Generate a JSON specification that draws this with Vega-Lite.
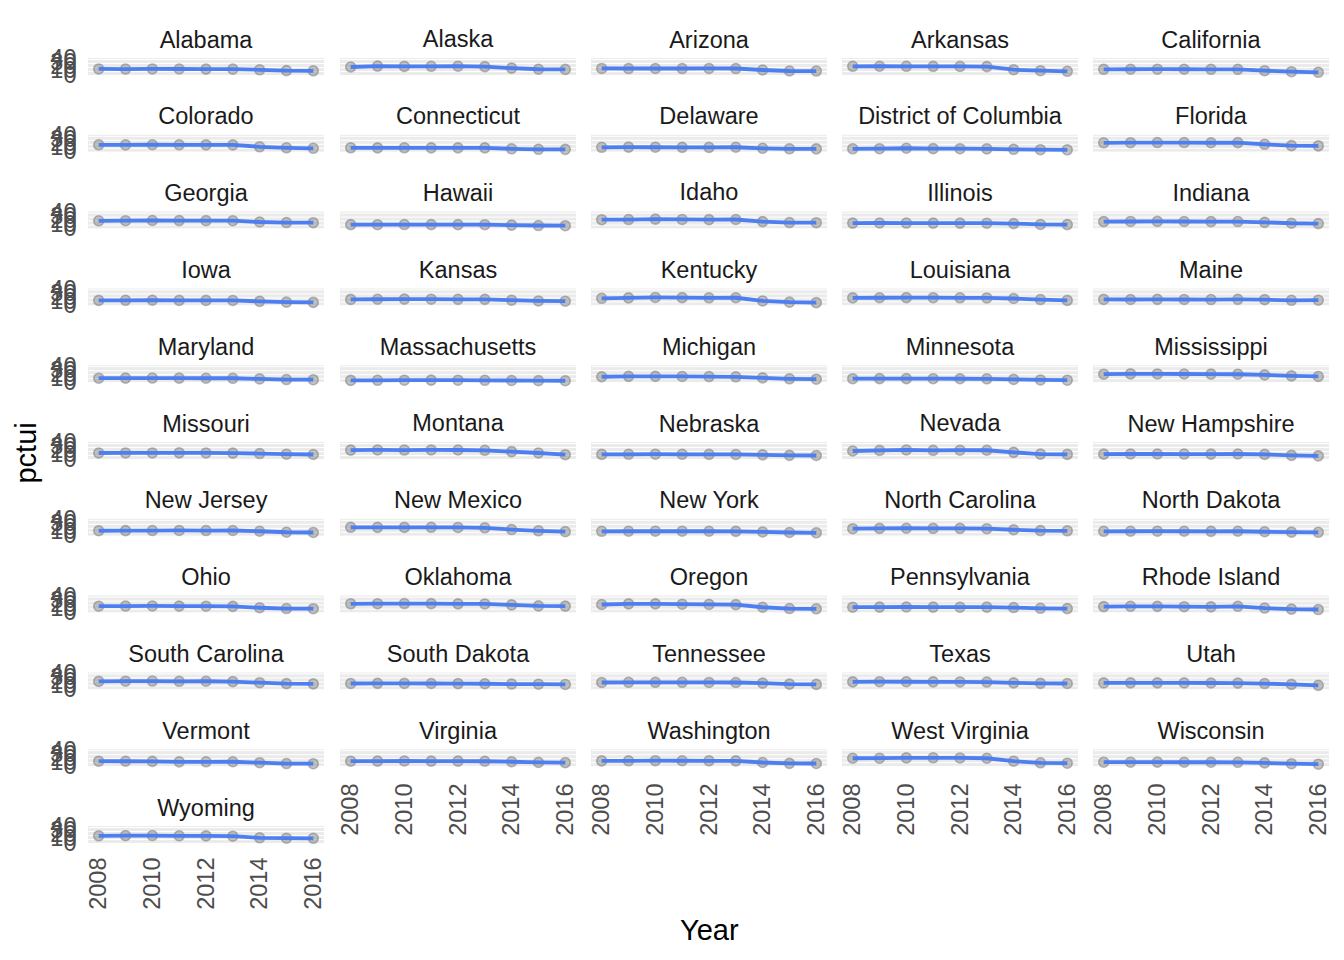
{
 "$schema": "https://vega.github.io/schema/vega-lite/v6.json",
 "background": "white",
 "padding": {"left": 12, "top": 28, "right": 5, "bottom": 5},
 "config": {
  "font": "Liberation Sans",
  "view": {"fill": "#EBEBEB", "stroke": null},
  "header": {"labelFontSize": 23.5, "labelColor": "#1A1A1A", "labelPadding": 6, "labelFont": "Liberation Sans"},
  "axisX": {"labelAngle": -90, "labelFontSize": 23.5, "labelColor": "#4D4D4D", "ticks": false, "domain": false, "grid": false, "labelPadding": 10},
  "axisY": {"labelFontSize": 23.5, "labelColor": "#4D4D4D", "ticks": false, "domain": false, "grid": true, "gridColor": "#FFFFFF", "gridWidth": 1, "labelPadding": 12, "labelOverlap": false, "labelBound": false, "labelFlush": false}
 },
 "title": {"text": "Year", "orient": "bottom", "anchor": "middle", "fontSize": 29, "fontWeight": "normal", "color": "#000000", "font": "Liberation Sans", "offset": 8, "dx": 38},
 "data": {"values": [
{"state":"Alabama","year":2008,"pctui":14.9},{"state":"Alabama","year":2009,"pctui":14.7},{"state":"Alabama","year":2010,"pctui":15.0},{"state":"Alabama","year":2011,"pctui":14.8},{"state":"Alabama","year":2012,"pctui":14.5},{"state":"Alabama","year":2013,"pctui":14.4},{"state":"Alabama","year":2014,"pctui":12.9},{"state":"Alabama","year":2015,"pctui":10.9},{"state":"Alabama","year":2016,"pctui":10.4},
{"state":"Alaska","year":2008,"pctui":19.8},{"state":"Alaska","year":2009,"pctui":22.0},{"state":"Alaska","year":2010,"pctui":21.3},{"state":"Alaska","year":2011,"pctui":21.5},{"state":"Alaska","year":2012,"pctui":21.8},{"state":"Alaska","year":2013,"pctui":20.6},{"state":"Alaska","year":2014,"pctui":17.0},{"state":"Alaska","year":2015,"pctui":14.2},{"state":"Alaska","year":2016,"pctui":13.8},
{"state":"Arizona","year":2008,"pctui":16.2},{"state":"Arizona","year":2009,"pctui":16.0},{"state":"Arizona","year":2010,"pctui":16.1},{"state":"Arizona","year":2011,"pctui":16.0},{"state":"Arizona","year":2012,"pctui":16.2},{"state":"Arizona","year":2013,"pctui":16.0},{"state":"Arizona","year":2014,"pctui":12.4},{"state":"Arizona","year":2015,"pctui":9.9},{"state":"Arizona","year":2016,"pctui":9.7},
{"state":"Arkansas","year":2008,"pctui":21.5},{"state":"Arkansas","year":2009,"pctui":21.6},{"state":"Arkansas","year":2010,"pctui":21.5},{"state":"Arkansas","year":2011,"pctui":21.4},{"state":"Arkansas","year":2012,"pctui":21.2},{"state":"Arkansas","year":2013,"pctui":20.8},{"state":"Arkansas","year":2014,"pctui":13.1},{"state":"Arkansas","year":2015,"pctui":10.6},{"state":"Arkansas","year":2016,"pctui":9.1},
{"state":"California","year":2008,"pctui":14.1},{"state":"California","year":2009,"pctui":14.2},{"state":"California","year":2010,"pctui":14.3},{"state":"California","year":2011,"pctui":14.2},{"state":"California","year":2012,"pctui":14.1},{"state":"California","year":2013,"pctui":14.0},{"state":"California","year":2014,"pctui":10.6},{"state":"California","year":2015,"pctui":8.2},{"state":"California","year":2016,"pctui":6.7},
{"state":"Colorado","year":2008,"pctui":17.3},{"state":"Colorado","year":2009,"pctui":17.0},{"state":"Colorado","year":2010,"pctui":17.4},{"state":"Colorado","year":2011,"pctui":17.3},{"state":"Colorado","year":2012,"pctui":17.1},{"state":"Colorado","year":2013,"pctui":17.0},{"state":"Colorado","year":2014,"pctui":12.4},{"state":"Colorado","year":2015,"pctui":9.9},{"state":"Colorado","year":2016,"pctui":8.6},
{"state":"Connecticut","year":2008,"pctui":9.9},{"state":"Connecticut","year":2009,"pctui":9.7},{"state":"Connecticut","year":2010,"pctui":9.9},{"state":"Connecticut","year":2011,"pctui":9.8},{"state":"Connecticut","year":2012,"pctui":9.8},{"state":"Connecticut","year":2013,"pctui":9.7},{"state":"Connecticut","year":2014,"pctui":7.4},{"state":"Connecticut","year":2015,"pctui":6.2},{"state":"Connecticut","year":2016,"pctui":6.0},
{"state":"Delaware","year":2008,"pctui":11.1},{"state":"Delaware","year":2009,"pctui":11.5},{"state":"Delaware","year":2010,"pctui":11.3},{"state":"Delaware","year":2011,"pctui":11.0},{"state":"Delaware","year":2012,"pctui":10.9},{"state":"Delaware","year":2013,"pctui":11.2},{"state":"Delaware","year":2014,"pctui":8.6},{"state":"Delaware","year":2015,"pctui":7.4},{"state":"Delaware","year":2016,"pctui":7.3},
{"state":"District of Columbia","year":2008,"pctui":7.4},{"state":"District of Columbia","year":2009,"pctui":7.6},{"state":"District of Columbia","year":2010,"pctui":8.8},{"state":"District of Columbia","year":2011,"pctui":7.8},{"state":"District of Columbia","year":2012,"pctui":7.6},{"state":"District of Columbia","year":2013,"pctui":7.2},{"state":"District of Columbia","year":2014,"pctui":6.2},{"state":"District of Columbia","year":2015,"pctui":5.2},{"state":"District of Columbia","year":2016,"pctui":4.9},
{"state":"Florida","year":2008,"pctui":22.2},{"state":"Florida","year":2009,"pctui":22.5},{"state":"Florida","year":2010,"pctui":22.9},{"state":"Florida","year":2011,"pctui":22.8},{"state":"Florida","year":2012,"pctui":22.4},{"state":"Florida","year":2013,"pctui":22.6},{"state":"Florida","year":2014,"pctui":18.5},{"state":"Florida","year":2015,"pctui":15.2},{"state":"Florida","year":2016,"pctui":14.6},
{"state":"Georgia","year":2008,"pctui":19.3},{"state":"Georgia","year":2009,"pctui":19.5},{"state":"Georgia","year":2010,"pctui":20.0},{"state":"Georgia","year":2011,"pctui":19.8},{"state":"Georgia","year":2012,"pctui":19.6},{"state":"Georgia","year":2013,"pctui":19.5},{"state":"Georgia","year":2014,"pctui":16.3},{"state":"Georgia","year":2015,"pctui":15.0},{"state":"Georgia","year":2016,"pctui":14.6},
{"state":"Hawaii","year":2008,"pctui":9.9},{"state":"Hawaii","year":2009,"pctui":9.6},{"state":"Hawaii","year":2010,"pctui":10.0},{"state":"Hawaii","year":2011,"pctui":9.9},{"state":"Hawaii","year":2012,"pctui":9.8},{"state":"Hawaii","year":2013,"pctui":9.6},{"state":"Hawaii","year":2014,"pctui":8.6},{"state":"Hawaii","year":2015,"pctui":7.6},{"state":"Hawaii","year":2016,"pctui":7.2},
{"state":"Idaho","year":2008,"pctui":22.0},{"state":"Idaho","year":2009,"pctui":22.3},{"state":"Idaho","year":2010,"pctui":23.3},{"state":"Idaho","year":2011,"pctui":22.6},{"state":"Idaho","year":2012,"pctui":22.1},{"state":"Idaho","year":2013,"pctui":22.5},{"state":"Idaho","year":2014,"pctui":17.3},{"state":"Idaho","year":2015,"pctui":15.0},{"state":"Idaho","year":2016,"pctui":14.6},
{"state":"Illinois","year":2008,"pctui":13.6},{"state":"Illinois","year":2009,"pctui":13.8},{"state":"Illinois","year":2010,"pctui":13.7},{"state":"Illinois","year":2011,"pctui":13.6},{"state":"Illinois","year":2012,"pctui":13.5},{"state":"Illinois","year":2013,"pctui":13.4},{"state":"Illinois","year":2014,"pctui":12.4},{"state":"Illinois","year":2015,"pctui":10.2},{"state":"Illinois","year":2016,"pctui":9.9},
{"state":"Indiana","year":2008,"pctui":17.3},{"state":"Indiana","year":2009,"pctui":17.6},{"state":"Indiana","year":2010,"pctui":17.8},{"state":"Indiana","year":2011,"pctui":17.5},{"state":"Indiana","year":2012,"pctui":17.3},{"state":"Indiana","year":2013,"pctui":17.4},{"state":"Indiana","year":2014,"pctui":15.5},{"state":"Indiana","year":2015,"pctui":13.2},{"state":"Indiana","year":2016,"pctui":12.4},
{"state":"Iowa","year":2008,"pctui":12.4},{"state":"Iowa","year":2009,"pctui":12.6},{"state":"Iowa","year":2010,"pctui":12.7},{"state":"Iowa","year":2011,"pctui":12.4},{"state":"Iowa","year":2012,"pctui":12.3},{"state":"Iowa","year":2013,"pctui":12.2},{"state":"Iowa","year":2014,"pctui":10.0},{"state":"Iowa","year":2015,"pctui":8.0},{"state":"Iowa","year":2016,"pctui":7.4},
{"state":"Kansas","year":2008,"pctui":14.8},{"state":"Kansas","year":2009,"pctui":15.2},{"state":"Kansas","year":2010,"pctui":15.6},{"state":"Kansas","year":2011,"pctui":15.3},{"state":"Kansas","year":2012,"pctui":15.0},{"state":"Kansas","year":2013,"pctui":15.0},{"state":"Kansas","year":2014,"pctui":12.8},{"state":"Kansas","year":2015,"pctui":11.0},{"state":"Kansas","year":2016,"pctui":10.4},
{"state":"Kentucky","year":2008,"pctui":17.6},{"state":"Kentucky","year":2009,"pctui":18.6},{"state":"Kentucky","year":2010,"pctui":19.6},{"state":"Kentucky","year":2011,"pctui":19.2},{"state":"Kentucky","year":2012,"pctui":18.8},{"state":"Kentucky","year":2013,"pctui":18.9},{"state":"Kentucky","year":2014,"pctui":11.0},{"state":"Kentucky","year":2015,"pctui":8.0},{"state":"Kentucky","year":2016,"pctui":6.8},
{"state":"Louisiana","year":2008,"pctui":18.7},{"state":"Louisiana","year":2009,"pctui":18.9},{"state":"Louisiana","year":2010,"pctui":19.2},{"state":"Louisiana","year":2011,"pctui":19.0},{"state":"Louisiana","year":2012,"pctui":18.8},{"state":"Louisiana","year":2013,"pctui":18.4},{"state":"Louisiana","year":2014,"pctui":17.0},{"state":"Louisiana","year":2015,"pctui":14.4},{"state":"Louisiana","year":2016,"pctui":12.4},
{"state":"Maine","year":2008,"pctui":14.8},{"state":"Maine","year":2009,"pctui":14.6},{"state":"Maine","year":2010,"pctui":14.9},{"state":"Maine","year":2011,"pctui":14.6},{"state":"Maine","year":2012,"pctui":14.4},{"state":"Maine","year":2013,"pctui":15.0},{"state":"Maine","year":2014,"pctui":14.2},{"state":"Maine","year":2015,"pctui":12.6},{"state":"Maine","year":2016,"pctui":12.8},
{"state":"Maryland","year":2008,"pctui":9.9},{"state":"Maryland","year":2009,"pctui":10.1},{"state":"Maryland","year":2010,"pctui":10.2},{"state":"Maryland","year":2011,"pctui":10.0},{"state":"Maryland","year":2012,"pctui":9.8},{"state":"Maryland","year":2013,"pctui":9.7},{"state":"Maryland","year":2014,"pctui":8.1},{"state":"Maryland","year":2015,"pctui":6.6},{"state":"Maryland","year":2016,"pctui":6.2},
{"state":"Massachusetts","year":2008,"pctui":4.5},{"state":"Massachusetts","year":2009,"pctui":4.7},{"state":"Massachusetts","year":2010,"pctui":5.0},{"state":"Massachusetts","year":2011,"pctui":5.1},{"state":"Massachusetts","year":2012,"pctui":4.9},{"state":"Massachusetts","year":2013,"pctui":4.7},{"state":"Massachusetts","year":2014,"pctui":4.2},{"state":"Massachusetts","year":2015,"pctui":3.8},{"state":"Massachusetts","year":2016,"pctui":3.6},
{"state":"Michigan","year":2008,"pctui":13.5},{"state":"Michigan","year":2009,"pctui":14.4},{"state":"Michigan","year":2010,"pctui":14.5},{"state":"Michigan","year":2011,"pctui":14.2},{"state":"Michigan","year":2012,"pctui":14.0},{"state":"Michigan","year":2013,"pctui":13.4},{"state":"Michigan","year":2014,"pctui":10.8},{"state":"Michigan","year":2015,"pctui":8.4},{"state":"Michigan","year":2016,"pctui":7.4},
{"state":"Minnesota","year":2008,"pctui":8.6},{"state":"Minnesota","year":2009,"pctui":8.8},{"state":"Minnesota","year":2010,"pctui":8.8},{"state":"Minnesota","year":2011,"pctui":8.6},{"state":"Minnesota","year":2012,"pctui":8.5},{"state":"Minnesota","year":2013,"pctui":8.4},{"state":"Minnesota","year":2014,"pctui":6.9},{"state":"Minnesota","year":2015,"pctui":5.6},{"state":"Minnesota","year":2016,"pctui":5.0},
{"state":"Mississippi","year":2008,"pctui":19.8},{"state":"Mississippi","year":2009,"pctui":20.5},{"state":"Mississippi","year":2010,"pctui":20.4},{"state":"Mississippi","year":2011,"pctui":20.3},{"state":"Mississippi","year":2012,"pctui":20.0},{"state":"Mississippi","year":2013,"pctui":19.7},{"state":"Mississippi","year":2014,"pctui":18.0},{"state":"Mississippi","year":2015,"pctui":15.6},{"state":"Mississippi","year":2016,"pctui":14.2},
{"state":"Missouri","year":2008,"pctui":14.8},{"state":"Missouri","year":2009,"pctui":15.0},{"state":"Missouri","year":2010,"pctui":15.0},{"state":"Missouri","year":2011,"pctui":15.1},{"state":"Missouri","year":2012,"pctui":15.0},{"state":"Missouri","year":2013,"pctui":14.6},{"state":"Missouri","year":2014,"pctui":13.5},{"state":"Missouri","year":2015,"pctui":11.8},{"state":"Missouri","year":2016,"pctui":11.1},
{"state":"Montana","year":2008,"pctui":22.0},{"state":"Montana","year":2009,"pctui":22.4},{"state":"Montana","year":2010,"pctui":22.1},{"state":"Montana","year":2011,"pctui":22.4},{"state":"Montana","year":2012,"pctui":22.2},{"state":"Montana","year":2013,"pctui":21.5},{"state":"Montana","year":2014,"pctui":18.2},{"state":"Montana","year":2015,"pctui":14.8},{"state":"Montana","year":2016,"pctui":10.6},
{"state":"Nebraska","year":2008,"pctui":11.4},{"state":"Nebraska","year":2009,"pctui":11.6},{"state":"Nebraska","year":2010,"pctui":11.8},{"state":"Nebraska","year":2011,"pctui":11.6},{"state":"Nebraska","year":2012,"pctui":11.4},{"state":"Nebraska","year":2013,"pctui":11.3},{"state":"Nebraska","year":2014,"pctui":10.3},{"state":"Nebraska","year":2015,"pctui":9.0},{"state":"Nebraska","year":2016,"pctui":8.6},
{"state":"Nevada","year":2008,"pctui":19.8},{"state":"Nevada","year":2009,"pctui":21.2},{"state":"Nevada","year":2010,"pctui":22.3},{"state":"Nevada","year":2011,"pctui":21.4},{"state":"Nevada","year":2012,"pctui":21.8},{"state":"Nevada","year":2013,"pctui":21.6},{"state":"Nevada","year":2014,"pctui":16.4},{"state":"Nevada","year":2015,"pctui":12.0},{"state":"Nevada","year":2016,"pctui":11.4},
{"state":"New Hampshire","year":2008,"pctui":12.0},{"state":"New Hampshire","year":2009,"pctui":12.3},{"state":"New Hampshire","year":2010,"pctui":12.4},{"state":"New Hampshire","year":2011,"pctui":12.2},{"state":"New Hampshire","year":2012,"pctui":12.0},{"state":"New Hampshire","year":2013,"pctui":12.3},{"state":"New Hampshire","year":2014,"pctui":11.4},{"state":"New Hampshire","year":2015,"pctui":9.0},{"state":"New Hampshire","year":2016,"pctui":7.6},
{"state":"New Jersey","year":2008,"pctui":12.5},{"state":"New Jersey","year":2009,"pctui":12.8},{"state":"New Jersey","year":2010,"pctui":13.0},{"state":"New Jersey","year":2011,"pctui":13.2},{"state":"New Jersey","year":2012,"pctui":13.0},{"state":"New Jersey","year":2013,"pctui":13.1},{"state":"New Jersey","year":2014,"pctui":11.2},{"state":"New Jersey","year":2015,"pctui":8.8},{"state":"New Jersey","year":2016,"pctui":8.2},
{"state":"New Mexico","year":2008,"pctui":21.0},{"state":"New Mexico","year":2009,"pctui":20.9},{"state":"New Mexico","year":2010,"pctui":20.8},{"state":"New Mexico","year":2011,"pctui":21.0},{"state":"New Mexico","year":2012,"pctui":20.6},{"state":"New Mexico","year":2013,"pctui":19.8},{"state":"New Mexico","year":2014,"pctui":15.4},{"state":"New Mexico","year":2015,"pctui":12.4},{"state":"New Mexico","year":2016,"pctui":10.2},
{"state":"New York","year":2008,"pctui":11.1},{"state":"New York","year":2009,"pctui":11.2},{"state":"New York","year":2010,"pctui":11.3},{"state":"New York","year":2011,"pctui":11.3},{"state":"New York","year":2012,"pctui":11.2},{"state":"New York","year":2013,"pctui":11.0},{"state":"New York","year":2014,"pctui":9.5},{"state":"New York","year":2015,"pctui":8.2},{"state":"New York","year":2016,"pctui":7.4},
{"state":"North Carolina","year":2008,"pctui":17.6},{"state":"North Carolina","year":2009,"pctui":18.3},{"state":"North Carolina","year":2010,"pctui":18.6},{"state":"North Carolina","year":2011,"pctui":18.3},{"state":"North Carolina","year":2012,"pctui":18.4},{"state":"North Carolina","year":2013,"pctui":17.6},{"state":"North Carolina","year":2014,"pctui":15.0},{"state":"North Carolina","year":2015,"pctui":12.8},{"state":"North Carolina","year":2016,"pctui":12.4},
{"state":"North Dakota","year":2008,"pctui":11.1},{"state":"North Dakota","year":2009,"pctui":11.2},{"state":"North Dakota","year":2010,"pctui":11.4},{"state":"North Dakota","year":2011,"pctui":11.2},{"state":"North Dakota","year":2012,"pctui":11.0},{"state":"North Dakota","year":2013,"pctui":11.2},{"state":"North Dakota","year":2014,"pctui":10.0},{"state":"North Dakota","year":2015,"pctui":9.0},{"state":"North Dakota","year":2016,"pctui":8.6},
{"state":"Ohio","year":2008,"pctui":15.8},{"state":"Ohio","year":2009,"pctui":16.2},{"state":"Ohio","year":2010,"pctui":16.4},{"state":"Ohio","year":2011,"pctui":16.1},{"state":"Ohio","year":2012,"pctui":15.8},{"state":"Ohio","year":2013,"pctui":15.4},{"state":"Ohio","year":2014,"pctui":12.0},{"state":"Ohio","year":2015,"pctui":10.0},{"state":"Ohio","year":2016,"pctui":9.6},
{"state":"Oklahoma","year":2008,"pctui":21.8},{"state":"Oklahoma","year":2009,"pctui":22.0},{"state":"Oklahoma","year":2010,"pctui":22.4},{"state":"Oklahoma","year":2011,"pctui":22.1},{"state":"Oklahoma","year":2012,"pctui":21.6},{"state":"Oklahoma","year":2013,"pctui":21.4},{"state":"Oklahoma","year":2014,"pctui":19.0},{"state":"Oklahoma","year":2015,"pctui":16.5},{"state":"Oklahoma","year":2016,"pctui":16.0},
{"state":"Oregon","year":2008,"pctui":20.0},{"state":"Oregon","year":2009,"pctui":21.5},{"state":"Oregon","year":2010,"pctui":21.6},{"state":"Oregon","year":2011,"pctui":20.8},{"state":"Oregon","year":2012,"pctui":20.2},{"state":"Oregon","year":2013,"pctui":19.6},{"state":"Oregon","year":2014,"pctui":13.2},{"state":"Oregon","year":2015,"pctui":10.0},{"state":"Oregon","year":2016,"pctui":9.4},
{"state":"Pennsylvania","year":2008,"pctui":13.4},{"state":"Pennsylvania","year":2009,"pctui":13.6},{"state":"Pennsylvania","year":2010,"pctui":13.8},{"state":"Pennsylvania","year":2011,"pctui":13.6},{"state":"Pennsylvania","year":2012,"pctui":13.4},{"state":"Pennsylvania","year":2013,"pctui":13.5},{"state":"Pennsylvania","year":2014,"pctui":12.5},{"state":"Pennsylvania","year":2015,"pctui":10.6},{"state":"Pennsylvania","year":2016,"pctui":9.9},
{"state":"Rhode Island","year":2008,"pctui":14.8},{"state":"Rhode Island","year":2009,"pctui":15.6},{"state":"Rhode Island","year":2010,"pctui":15.4},{"state":"Rhode Island","year":2011,"pctui":14.6},{"state":"Rhode Island","year":2012,"pctui":14.2},{"state":"Rhode Island","year":2013,"pctui":15.6},{"state":"Rhode Island","year":2014,"pctui":11.2},{"state":"Rhode Island","year":2015,"pctui":8.6},{"state":"Rhode Island","year":2016,"pctui":7.6},
{"state":"South Carolina","year":2008,"pctui":19.8},{"state":"South Carolina","year":2009,"pctui":20.2},{"state":"South Carolina","year":2010,"pctui":20.6},{"state":"South Carolina","year":2011,"pctui":20.0},{"state":"South Carolina","year":2012,"pctui":20.1},{"state":"South Carolina","year":2013,"pctui":19.2},{"state":"South Carolina","year":2014,"pctui":16.6},{"state":"South Carolina","year":2015,"pctui":14.2},{"state":"South Carolina","year":2016,"pctui":13.6},
{"state":"South Dakota","year":2008,"pctui":14.6},{"state":"South Dakota","year":2009,"pctui":14.9},{"state":"South Dakota","year":2010,"pctui":14.8},{"state":"South Dakota","year":2011,"pctui":14.6},{"state":"South Dakota","year":2012,"pctui":14.2},{"state":"South Dakota","year":2013,"pctui":14.0},{"state":"South Dakota","year":2014,"pctui":13.2},{"state":"South Dakota","year":2015,"pctui":12.8},{"state":"South Dakota","year":2016,"pctui":12.2},
{"state":"Tennessee","year":2008,"pctui":17.0},{"state":"Tennessee","year":2009,"pctui":17.6},{"state":"Tennessee","year":2010,"pctui":17.5},{"state":"Tennessee","year":2011,"pctui":17.6},{"state":"Tennessee","year":2012,"pctui":17.2},{"state":"Tennessee","year":2013,"pctui":17.0},{"state":"Tennessee","year":2014,"pctui":15.6},{"state":"Tennessee","year":2015,"pctui":13.0},{"state":"Tennessee","year":2016,"pctui":12.4},
{"state":"Texas","year":2008,"pctui":18.6},{"state":"Texas","year":2009,"pctui":19.0},{"state":"Texas","year":2010,"pctui":18.9},{"state":"Texas","year":2011,"pctui":18.6},{"state":"Texas","year":2012,"pctui":18.4},{"state":"Texas","year":2013,"pctui":18.2},{"state":"Texas","year":2014,"pctui":16.2},{"state":"Texas","year":2015,"pctui":15.0},{"state":"Texas","year":2016,"pctui":14.6},
{"state":"Utah","year":2008,"pctui":16.0},{"state":"Utah","year":2009,"pctui":16.2},{"state":"Utah","year":2010,"pctui":16.2},{"state":"Utah","year":2011,"pctui":16.0},{"state":"Utah","year":2012,"pctui":15.8},{"state":"Utah","year":2013,"pctui":15.6},{"state":"Utah","year":2014,"pctui":14.4},{"state":"Utah","year":2015,"pctui":12.4},{"state":"Utah","year":2016,"pctui":10.0},
{"state":"Vermont","year":2008,"pctui":12.4},{"state":"Vermont","year":2009,"pctui":12.2},{"state":"Vermont","year":2010,"pctui":12.0},{"state":"Vermont","year":2011,"pctui":10.8},{"state":"Vermont","year":2012,"pctui":10.9},{"state":"Vermont","year":2013,"pctui":11.0},{"state":"Vermont","year":2014,"pctui":8.6},{"state":"Vermont","year":2015,"pctui":6.6},{"state":"Vermont","year":2016,"pctui":6.2},
{"state":"Virginia","year":2008,"pctui":12.4},{"state":"Virginia","year":2009,"pctui":12.6},{"state":"Virginia","year":2010,"pctui":12.8},{"state":"Virginia","year":2011,"pctui":12.6},{"state":"Virginia","year":2012,"pctui":12.6},{"state":"Virginia","year":2013,"pctui":12.2},{"state":"Virginia","year":2014,"pctui":11.0},{"state":"Virginia","year":2015,"pctui":9.4},{"state":"Virginia","year":2016,"pctui":8.8},
{"state":"Washington","year":2008,"pctui":13.1},{"state":"Washington","year":2009,"pctui":13.4},{"state":"Washington","year":2010,"pctui":13.6},{"state":"Washington","year":2011,"pctui":13.5},{"state":"Washington","year":2012,"pctui":13.4},{"state":"Washington","year":2013,"pctui":13.2},{"state":"Washington","year":2014,"pctui":9.1},{"state":"Washington","year":2015,"pctui":7.0},{"state":"Washington","year":2016,"pctui":6.7},
{"state":"West Virginia","year":2008,"pctui":19.6},{"state":"West Virginia","year":2009,"pctui":19.8},{"state":"West Virginia","year":2010,"pctui":20.5},{"state":"West Virginia","year":2011,"pctui":20.8},{"state":"West Virginia","year":2012,"pctui":20.4},{"state":"West Virginia","year":2013,"pctui":19.6},{"state":"West Virginia","year":2014,"pctui":12.4},{"state":"West Virginia","year":2015,"pctui":8.4},{"state":"West Virginia","year":2016,"pctui":7.4},
{"state":"Wisconsin","year":2008,"pctui":9.9},{"state":"Wisconsin","year":2009,"pctui":9.9},{"state":"Wisconsin","year":2010,"pctui":10.0},{"state":"Wisconsin","year":2011,"pctui":9.8},{"state":"Wisconsin","year":2012,"pctui":9.8},{"state":"Wisconsin","year":2013,"pctui":9.6},{"state":"Wisconsin","year":2014,"pctui":8.2},{"state":"Wisconsin","year":2015,"pctui":6.2},{"state":"Wisconsin","year":2016,"pctui":5.0},
{"state":"Wyoming","year":2008,"pctui":17.8},{"state":"Wyoming","year":2009,"pctui":18.2},{"state":"Wyoming","year":2010,"pctui":18.4},{"state":"Wyoming","year":2011,"pctui":17.8},{"state":"Wyoming","year":2012,"pctui":17.6},{"state":"Wyoming","year":2013,"pctui":16.8},{"state":"Wyoming","year":2014,"pctui":12.8},{"state":"Wyoming","year":2015,"pctui":11.8},{"state":"Wyoming","year":2016,"pctui":11.6}
 ]},
 "spacing": 13,
 "hconcat": [
  {
   "title": {"text": "pctui", "orient": "left", "anchor": "middle", "fontSize": 29, "fontWeight": "normal", "color": "#000000", "font": "Liberation Sans", "offset": 8, "dx": 16},
   "transform": [{"filter": {"field": "state", "oneOf": ["Alabama", "Colorado", "Georgia", "Iowa", "Maryland", "Missouri", "New Jersey", "Ohio", "South Carolina", "Vermont", "Wyoming"]}}],
   "columns": 1,
   "spacing": {"row": 23.8},
   "facet": {"field": "state", "type": "nominal", "title": null},
   "spec": {
    "width": 236,
    "height": 17,
    "encoding": {
     "x": {"field": "year", "type": "quantitative", "scale": {"domain": [2007.6, 2016.4], "nice": false, "zero": false}, "axis": {"values": [2008, 2010, 2012, 2014, 2016], "format": "d", "title": null}},
     "y": {"field": "pctui", "type": "quantitative", "scale": {"domain": [0, 42], "nice": false, "zero": false}, "axis": {"values": [0, 10, 20, 30, 40], "title": null}}
    },
    "layer": [
     {"mark": {"type": "point", "filled": true, "size": 100, "fill": "#7F7F7F", "fillOpacity": 0.45, "stroke": "#7F7F7F", "strokeOpacity": 0.55, "strokeWidth": 1.6}},
     {"mark": {"type": "line", "color": "#F8766D", "strokeWidth": 1}},
     {"mark": {"type": "line", "color": "#4E7FF0", "strokeWidth": 3.8}}
    ]
   }
  },
  {
   "transform": [{"filter": {"not": {"field": "state", "oneOf": ["Alabama", "Colorado", "Georgia", "Iowa", "Maryland", "Missouri", "New Jersey", "Ohio", "South Carolina", "Vermont", "Wyoming"]}}}],
   "columns": 4,
   "spacing": {"row": 21.8, "column": 15},
   "facet": {"field": "state", "type": "nominal", "title": null},
   "spec": {
    "width": 236,
    "height": 17,
    "encoding": {
     "x": {"field": "year", "type": "quantitative", "scale": {"domain": [2007.6, 2016.4], "nice": false, "zero": false}, "axis": {"values": [2008, 2010, 2012, 2014, 2016], "format": "d", "title": null}},
     "y": {"field": "pctui", "type": "quantitative", "scale": {"domain": [0, 42], "nice": false, "zero": false}, "axis": {"values": [0, 10, 20, 30, 40], "title": null, "labels": false, "labelPadding": 0}}
    },
    "layer": [
     {"mark": {"type": "point", "filled": true, "size": 100, "fill": "#7F7F7F", "fillOpacity": 0.45, "stroke": "#7F7F7F", "strokeOpacity": 0.55, "strokeWidth": 1.6}},
     {"mark": {"type": "line", "color": "#F8766D", "strokeWidth": 1}},
     {"mark": {"type": "line", "color": "#4E7FF0", "strokeWidth": 3.8}}
    ]
   }
  }
 ]
}
